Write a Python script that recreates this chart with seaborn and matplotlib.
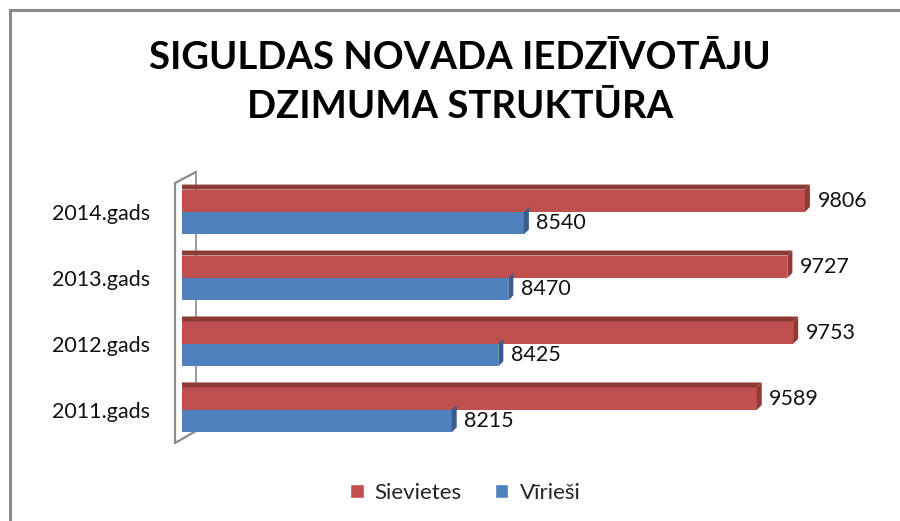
import matplotlib
matplotlib.use("Agg")
import matplotlib.pyplot as plt
from matplotlib.patches import Polygon, Rectangle
from matplotlib.lines import Line2D
import seaborn as sns
import pandas as pd

years = ["2014.gads", "2013.gads", "2012.gads", "2011.gads"]
sievietes = [9806, 9727, 9753, 9589]
virieši = [8540, 8470, 8425, 8215]
series_names = ["Sievietes", "Vīrieši"]
title = "SIGULDAS NOVADA IEDZĪVOTĀJU\nDZIMUMA STRUKTŪRA"

colors = {"Sievietes": "#C0504D", "Vīrieši": "#4F81BD"}
dark = {"Sievietes": "#8E3A37", "Vīrieši": "#385D8A"}

df = pd.DataFrame({
    "Gads": years * 2,
    "Vertiba": sievietes + virieši,
    "Dzimums": [series_names[0]] * len(years) + [series_names[1]] * len(years),
})

sns.set_theme(style="white")
plt.rcParams["font.family"] = ["Lato", "DejaVu Sans"]

fig = plt.figure(figsize=(9, 5.21), dpi=100)
ax = fig.add_axes([0.2022, 0.150, 0.7400, 0.5064])

sns.barplot(data=df, y="Gads", x="Vertiba", hue="Dzimums", order=years,
            hue_order=series_names, palette=colors, orient="h", width=0.68,
            ax=ax, legend=False, saturation=1, linewidth=0, edgecolor="none")

ax.set_xlim(7000, 10000)
ax.set_xlabel("")
ax.set_ylabel("")
ax.set_xticks([])
for s in ax.spines.values():
    s.set_visible(False)
ax.tick_params(axis="y", length=0, pad=23, labelsize=15.5, labelcolor="#111111")

# 3D depth in data units
fig.canvas.draw()
px_x = (ax.get_xlim()[1] - ax.get_xlim()[0]) / ax.get_window_extent().width
px_y = abs(ax.get_ylim()[1] - ax.get_ylim()[0]) / ax.get_window_extent().height
dx = 5 * px_x
dy = 5 * px_y

for container, name in zip(ax.containers, series_names):
    for bar in container:
        x0 = bar.get_x()
        w = bar.get_width()
        y0 = bar.get_y()
        h = bar.get_height()
        x1 = x0 + w
        ytop = y0  # inverted y-axis: smaller y is visually top
        ybot = y0 + h
        if name == series_names[0]:
            top = Polygon([(x0, ytop), (x0 + dx, ytop - dy), (x1 + dx, ytop - dy), (x1, ytop)],
                          closed=True, facecolor=dark[name], edgecolor="none", zorder=3)
            ax.add_patch(top)
        side = Polygon([(x1, ytop), (x1 + dx, ytop - dy), (x1 + dx, ybot - dy), (x1, ybot)],
                       closed=True, facecolor=dark[name], edgecolor="none", zorder=3)
        ax.add_patch(side)
    ax.bar_label(container, labels=[f"{int(round(v.get_width()))}" for v in container],
                 padding=9, fontsize=15.5, color="#111111")

# Left 3D wall outline
wall_kw = dict(color="#8C8C8C", lw=1.6, transform=fig.transFigure, clip_on=False)
fx = lambda p: p / 900
fy = lambda p: 1 - p / 521
fig.add_artist(Line2D([fx(175), fx(175)], [fy(183), fy(443)], **wall_kw))
fig.add_artist(Line2D([fx(175), fx(196)], [fy(183), fy(172)], **wall_kw))
fig.add_artist(Line2D([fx(175), fx(196)], [fy(443), fy(431)], **wall_kw))
line_back = Line2D([fx(196), fx(196)], [fy(172), fy(431)], color="#8C8C8C", lw=1.2,
                   transform=fig.transFigure, zorder=0)
fig.add_artist(line_back)
ax.set_zorder(2)
ax.patch.set_alpha(0)

fig.text(0.511, 0.842, title, ha="center", va="center", fontsize=27.5,
         fontweight="bold", linespacing=1.55, color="#000000")

handles = [Rectangle((0, 0), 1, 1, facecolor=colors[n]) for n in series_names]
fig.legend(handles, series_names, loc="center", bbox_to_anchor=(0.517, 0.054),
           ncol=2, frameon=False, fontsize=16, handlelength=0.6, handleheight=0.6,
           columnspacing=1.5, handletextpad=0.5)

# chart border (top and left visible)
fig.add_artist(Rectangle((fx(10), -0.05), 1.1, fy(10) + 0.05, transform=fig.transFigure,
                         fill=False, edgecolor="#8A8A8A", lw=2.2, clip_on=False))

fig.savefig("out.png", dpi=100, facecolor="white")
